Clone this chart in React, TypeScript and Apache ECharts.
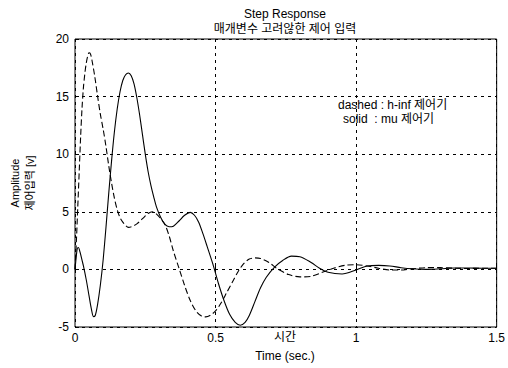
import React, { useEffect, useRef } from "react";
import * as echarts from "echarts";

// h-inf controller (dashed)
const T_HINF = [0, 0.005, 0.01, 0.015, 0.02, 0.025, 0.03, 0.035, 0.04, 0.045, 0.05, 0.055, 0.06, 0.07, 0.08, 0.09, 0.1, 0.11, 0.12, 0.13, 0.14, 0.15, 0.16, 0.17, 0.18, 0.19, 0.2, 0.22, 0.24, 0.26, 0.275, 0.29, 0.305, 0.32, 0.335, 0.35, 0.37, 0.39, 0.41, 0.43, 0.45, 0.465, 0.48, 0.5, 0.52, 0.54, 0.56, 0.58, 0.6, 0.62, 0.64, 0.66, 0.69, 0.72, 0.76, 0.8, 0.84, 0.88, 0.92, 0.96, 1.0, 1.04, 1.08, 1.12, 1.16, 1.2, 1.25, 1.3, 1.35, 1.4, 1.45, 1.5];
const V_HINF = [0, 2.5, 5.5, 8.5, 11.5, 14, 15.8, 17, 17.9, 18.5, 18.8, 18.7, 18.2, 16.8, 15.1, 13.5, 12.2, 10.7, 9.0, 7.5, 6.2, 5.2, 4.5, 4.1, 3.8, 3.65, 3.7, 3.95, 4.4, 4.85, 5.0, 4.8, 4.4, 3.9, 2.9, 1.6, 0.1, -1.4, -2.7, -3.6, -4.05, -4.12, -4.0, -3.6, -2.9, -2.0, -1.1, -0.2, 0.5, 0.9, 1.0, 0.95, 0.6, 0.05, -0.45, -0.65, -0.6, -0.25, 0.1, 0.35, 0.4, 0.3, 0.1, -0.05, -0.05, 0.05, 0.15, 0.15, 0.1, 0.08, 0.1, 0.1];

// mu controller (solid)
const T_MU = [0, 0.004, 0.008, 0.012, 0.018, 0.025, 0.03, 0.04, 0.05, 0.058, 0.066, 0.072, 0.08, 0.09, 0.1, 0.11, 0.12, 0.13, 0.14, 0.15, 0.16, 0.17, 0.18, 0.19, 0.2, 0.21, 0.22, 0.23, 0.24, 0.25, 0.26, 0.27, 0.28, 0.29, 0.305, 0.32, 0.335, 0.35, 0.37, 0.39, 0.41, 0.425, 0.44, 0.455, 0.47, 0.49, 0.51, 0.53, 0.55, 0.57, 0.588, 0.605, 0.62, 0.64, 0.66, 0.68, 0.71, 0.74, 0.77, 0.8, 0.84, 0.87, 0.9, 0.95, 1.0, 1.04, 1.08, 1.12, 1.16, 1.2, 1.25, 1.3, 1.35, 1.4, 1.45, 1.5];
const V_MU = [0, 1.0, 1.8, 1.9, 1.5, 0.8, 0.3, -0.9, -2.3, -3.4, -4.1, -4.0, -3.1, -1.4, 0.8, 3.6, 6.6, 9.4, 11.9, 13.9, 15.4, 16.4, 16.9, 17.05, 16.8, 16.1, 14.9, 13.4, 11.7, 10.0, 8.5, 7.3, 6.3, 5.4, 4.5, 3.9, 3.7, 3.75, 4.2, 4.7, 4.95, 4.7, 4.1, 3.1, 2.0, 0.5, -1.2, -2.7, -3.9, -4.6, -4.85, -4.6, -4.0, -2.8, -1.6, -0.7, 0.2, 0.8, 1.15, 1.1, 0.6, 0.1, -0.25, -0.4, -0.05, 0.3, 0.35, 0.3, 0.15, 0.05, 0.0, 0.05, 0.12, 0.12, 0.1, 0.1];

const X_TICKS = [0, 0.5, 1, 1.5];
const Y_TICKS = [-5, 0, 5, 10, 15, 20];

const TITLE_LINES = ["Step Response", "매개변수 고려않한 제어 입력"];
const X_NAMES = ["시간", "Time (sec.)"];
const Y_NAMES = ["Amplitude", "제어입력 [v]"];
const LEGEND_LINES = ["dashed : h-inf 제어기", "solid  : mu 제어기"];

const FONT = "'Liberation Sans', Arial, 'Noto Sans CJK KR', sans-serif";

export default function App() {
  const ref = useRef<HTMLDivElement>(null);
  useEffect(() => {
    if (!ref.current) return;
    const chart = echarts.init(ref.current, null, { renderer: "svg" });
    const pairs = (t: number[], v: number[]) => t.map((x, i) => [x, v[i]]);
    const txt = { fill: "#000", fontFamily: FONT, fontSize: 12 };
    chart.setOption({
      animation: false,
      backgroundColor: "#fff",
      grid: { left: 75, right: 8, top: 39, bottom: 41, show: true, borderColor: "#000", borderWidth: 1, backgroundColor: "transparent" },
      xAxis: {
        type: "value", min: X_TICKS[0], max: X_TICKS[X_TICKS.length - 1], interval: 0.5,
        axisLine: { show: false },
        axisTick: { show: true, inside: true, length: 4, lineStyle: { color: "#000" } },
        axisLabel: { color: "#000", fontFamily: FONT, fontSize: 12, margin: 5 },
        splitLine: { show: true, lineStyle: { color: "#000", type: [3, 4], width: 1 } },
      },
      yAxis: {
        type: "value", min: Y_TICKS[0], max: Y_TICKS[Y_TICKS.length - 1], interval: 5,
        axisLine: { show: false },
        axisTick: { show: true, inside: true, length: 4, lineStyle: { color: "#000" } },
        axisLabel: { color: "#000", fontFamily: FONT, fontSize: 12, margin: 6 },
        splitLine: { show: true, lineStyle: { color: "#000", type: [3, 4], width: 1 } },
      },
      series: [
        {
          type: "line", data: pairs(T_HINF, V_HINF), symbol: "none", smooth: 0.3,
          lineStyle: { color: "#000", width: 1.1, type: [6, 3] },
        },
        {
          type: "line", data: pairs(T_MU, V_MU), symbol: "none", smooth: 0.3,
          lineStyle: { color: "#000", width: 1.1, type: "solid" },
        },
      ],
      graphic: [
        { type: "text", x: 285, y: 14, style: { ...txt, text: TITLE_LINES[0], fontSize: 12, textAlign: "center", textVerticalAlign: "middle" } },
        { type: "text", x: 285, y: 29, style: { ...txt, text: TITLE_LINES[1], fontSize: 12, textAlign: "center", textVerticalAlign: "middle" } },
        { type: "text", x: 285, y: 337, style: { ...txt, text: X_NAMES[0], fontSize: 12, textAlign: "center", textVerticalAlign: "middle" } },
        { type: "text", x: 285, y: 356, style: { ...txt, text: X_NAMES[1], fontSize: 12, textAlign: "center", textVerticalAlign: "middle" } },
        { type: "text", x: 15, y: 183, rotation: Math.PI / 2, style: { ...txt, text: Y_NAMES[0], fontSize: 11, textAlign: "center", textVerticalAlign: "middle" } },
        { type: "text", x: 30, y: 183, rotation: Math.PI / 2, style: { ...txt, text: Y_NAMES[1], fontSize: 11, textAlign: "center", textVerticalAlign: "middle" } },
        { type: "text", x: 338, y: 105, style: { ...txt, text: LEGEND_LINES[0], fontSize: 12, textAlign: "left", textVerticalAlign: "middle" } },
        { type: "text", x: 343, y: 119, style: { ...txt, text: LEGEND_LINES[1], fontSize: 12, textAlign: "left", textVerticalAlign: "middle" } },
      ],
    });
    return () => chart.dispose();
  }, []);
  return <div ref={ref} style={{ position: "fixed", left: 0, top: 0, width: 508, height: 368 }} />;
}
